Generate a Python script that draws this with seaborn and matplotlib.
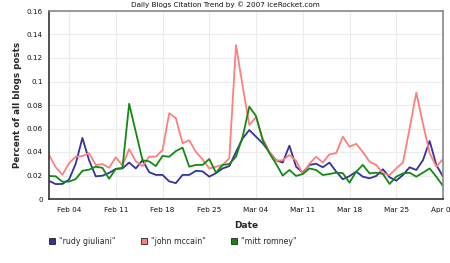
import matplotlib
matplotlib.use("Agg")
import matplotlib.pyplot as plt
import matplotlib.dates as mdates
from matplotlib.lines import Line2D
import seaborn as sns
import pandas as pd

# daily share of blog posts, Feb 01 - Apr 01 2007
dates = pd.date_range("2007-02-01", "2007-04-01", freq="D")

rudy = [0.0155, 0.0127, 0.0128, 0.0165, 0.030, 0.052, 0.033, 0.0193, 0.0198, 0.0222,
        0.0256, 0.026, 0.031, 0.026, 0.033, 0.0228, 0.0205, 0.0205, 0.015, 0.0135,
        0.0205, 0.0205, 0.024, 0.0235, 0.019, 0.022, 0.026, 0.028, 0.040, 0.0516,
        0.0587, 0.053, 0.0474, 0.040, 0.033, 0.031, 0.0454, 0.0275, 0.0224, 0.029,
        0.030, 0.027, 0.031, 0.0233, 0.0168, 0.0195, 0.0233, 0.019, 0.0176, 0.0196,
        0.0253, 0.0185, 0.0156, 0.0204, 0.027, 0.0247, 0.033, 0.0494, 0.029, 0.019]

mccain = [0.0376, 0.027, 0.0206, 0.0305, 0.036, 0.0366, 0.039, 0.029, 0.0297, 0.0266,
          0.0355, 0.0285, 0.0425, 0.032, 0.028, 0.036, 0.036, 0.0417, 0.073, 0.0687,
          0.0474, 0.050, 0.040, 0.0338, 0.026, 0.0275, 0.029, 0.0346, 0.131, 0.096,
          0.063, 0.0697, 0.0516, 0.040, 0.0326, 0.033, 0.0374, 0.0326, 0.0213, 0.030,
          0.036, 0.031, 0.038, 0.039, 0.053, 0.0445, 0.047, 0.040, 0.0318, 0.029,
          0.0218, 0.0204, 0.026, 0.031, 0.060, 0.0905, 0.064, 0.039, 0.0275, 0.034]

romney = [0.0196, 0.0193, 0.0147, 0.0148, 0.017, 0.024, 0.025, 0.0275, 0.0265, 0.0172,
          0.0256, 0.0265, 0.081, 0.057, 0.033, 0.032, 0.028, 0.0366, 0.036, 0.0408,
          0.0437, 0.0275, 0.029, 0.029, 0.034, 0.0224, 0.029, 0.0298, 0.036, 0.053,
          0.0786, 0.0706, 0.050, 0.039, 0.030, 0.0199, 0.0247, 0.0196, 0.0213, 0.026,
          0.0247, 0.0204, 0.0213, 0.0224, 0.022, 0.0139, 0.0233, 0.029, 0.0218, 0.0224,
          0.0213, 0.0128, 0.019, 0.0218, 0.0224, 0.019, 0.0224, 0.026, 0.019, 0.011]

names = ['"rudy giuliani"', '"john mccain"', '"mitt romney"']
colors = ["#333399", "#ff7f7f", "#128a12"]

df = pd.DataFrame({"date": list(dates) * 3,
                   "share": rudy + mccain + romney,
                   "who": [n for n in names for _ in dates]})

sns.set_style("whitegrid", {"grid.color": "#ececec", "axes.edgecolor": "#777777"})
plt.rcParams["font.family"] = ["DejaVu Sans"]

fig = plt.figure(figsize=(4.5, 2.63), dpi=100)
ax = fig.add_axes([49 / 450, 1 - 199 / 263, 394 / 450, 188 / 263])

sns.lineplot(data=df, x="date", y="share", hue="who", palette=colors,
             linewidth=1.3, legend=False, ax=ax)

ax.set_xlim(dates[0], dates[-1])
ax.set_ylim(0, 0.16)
ax.set_yticks([0, 0.02, 0.04, 0.06, 0.08, 0.1, 0.12, 0.14, 0.16])
ax.set_yticklabels(["0", "0.02", "0.04", "0.06", "0.08", "0.1", "0.12", "0.14", "0.16"])
ax.xaxis.set_major_locator(mdates.DayLocator(bymonthday=[4, 11, 18, 25, 1]))
ax.set_xticks(pd.to_datetime(["2007-02-04", "2007-02-11", "2007-02-18", "2007-02-25",
                              "2007-03-04", "2007-03-11", "2007-03-18", "2007-03-25",
                              "2007-04-01"]))
ax.xaxis.set_major_formatter(mdates.DateFormatter("%b %d"))
ax.tick_params(axis="both", labelsize=5.2, length=2.5, width=0.8, color="#333333",
               pad=2, labelcolor="#111111")
ax.tick_params(axis="x", pad=3)

for side in ["left", "bottom"]:
    ax.spines[side].set_color("#333333")
    ax.spines[side].set_linewidth(1.2)
for side in ["top", "right"]:
    ax.spines[side].set_color("#888888")
    ax.spines[side].set_linewidth(1.2)

ax.set_xlabel("Date", fontsize=6.5, fontweight="bold", labelpad=6)
ax.set_ylabel("Percent of all blogs posts", fontsize=6.3, fontweight="bold", labelpad=3)

fig.text(0.5, 1 - 5 / 263, "Daily Blogs Citation Trend by \u00a9 2007 IceRocket.com",
         ha="center", va="center", fontsize=5.2, color="#111111")

handles = [Line2D([], [], linestyle="none", marker="s", markersize=4.5,
                  markerfacecolor=c, markeredgecolor="#222222", markeredgewidth=0.6)
           for c in colors]
fig.legend(handles, names, loc="center left", bbox_to_anchor=(46 / 450, 1 - 241 / 263),
           ncol=3, frameon=False, fontsize=5.6, handlelength=0.8, handletextpad=0.5,
           columnspacing=3.2, borderaxespad=0)

fig.savefig("out.png", dpi=100)
